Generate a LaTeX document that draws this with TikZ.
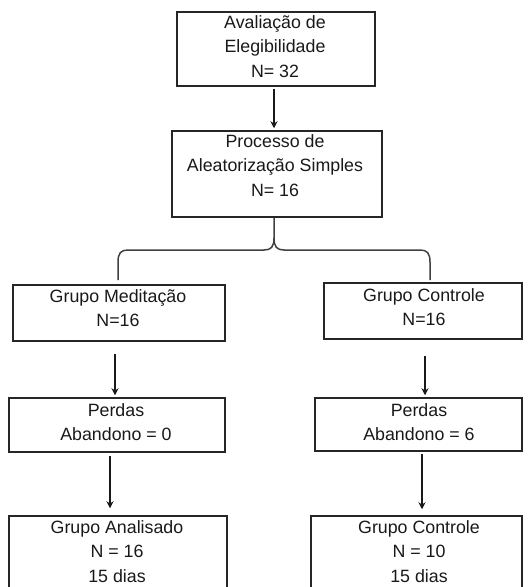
\documentclass[tikz,border=0pt]{standalone}
\usepackage{fontspec}
\setmainfont{Liberation Sans}
\usetikzlibrary{arrows.meta}
\begin{document}
\begin{tikzpicture}[x=1pt,y=-1pt,
 box/.style={draw=black!85, line width=1.5pt, inner sep=0pt, rectangle},
 txt/.style={inner sep=0pt, align=center, anchor=north, text=black!90, font=\fontsize{17.8}{24.5}\selectfont},
 arr/.style={draw=black!90, line width=1.5pt, -{Stealth[length=7pt,width=7pt]}},
 brc/.style={draw=black!75, line width=1.5pt}]
\useasboundingbox (0,0) rectangle (528,587);
\clip (0,0) rectangle (528,587);
% boxes
\node[box, minimum width=198pt, minimum height=74pt] (b1) at (276,49) {};
\node[box, minimum width=210pt, minimum height=86pt] (b2) at (277,174) {};
\node[box, minimum width=212pt, minimum height=56pt] (b3) at (119,313) {};
\node[box, minimum width=198pt, minimum height=56pt] (b4) at (423,311) {};
\node[box, minimum width=216pt, minimum height=54pt] (b5) at (117,425) {};
\node[box, minimum width=207pt, minimum height=53pt] (b6) at (418.5,424.5) {};
\node[box, minimum width=218pt, minimum height=94pt] (b7) at (118,563) {};
\node[box, minimum width=211pt, minimum height=94pt] (b8) at (416.5,563) {};
% texts
\node[txt] (t1) at (275,15.25) {Avaliação de\\Elegibilidade\\N= 32};
\node[txt] (t2) at (275,134.25) {Processo de\\Aleatorização Simples\\N= 16};
\node[txt] (t3) at (118,289.25) {Grupo Meditação\\N=16};
\node[txt] (t4) at (424,288.25) {Grupo Controle\\N=16};
\node[txt] (t5) at (116,403.25) {Perdas\\Abandono = 0};
\node[txt] (t6) at (419,403.25) {Perdas\\Abandono = 6};
\node[txt] (t7) at (117,520.25) {Grupo Analisado\\N = 16\\15 dias};
\node[txt] (t8) at (419,520.25) {Grupo Controle\\N = 10\\15 dias};
% arrows
\draw[arr] ([xshift=-2pt,yshift=-2pt]b1.south) -- ([xshift=-3pt,yshift=2pt]b2.north);
\draw[arr] ([xshift=-4pt,yshift=-12pt]b3.south) -- ([xshift=-2pt,yshift=2pt]b5.north);
\draw[arr] ([xshift=2pt,yshift=-16pt]b4.south) -- ([xshift=6.5pt,yshift=2pt]b6.north);
\draw[arr] ([xshift=-7pt,yshift=-3pt]b5.south) -- ([xshift=-8pt,yshift=7pt]b7.north);
\draw[arr] ([xshift=3.5pt,yshift=-2pt]b6.south) -- ([xshift=5.5pt,yshift=6pt]b8.north);
% brace
\coordinate (bm) at (274,238);
\coordinate (bl) at (118,280);
\coordinate (br) at (430,280);
\draw[brc] ([xshift=-3pt]b2.south) -- (bm) .. controls (274,247) and (271,250) .. (264,250) -- (128,250) .. controls (121,250) and (118,253) .. (118,262) -- (bl);
\draw[brc] (bm) .. controls (274,247) and (277,250) .. (284,250) -- (420,250) .. controls (427,250) and (430,253) .. (430,262) -- (br);
\end{tikzpicture}
\end{document}
